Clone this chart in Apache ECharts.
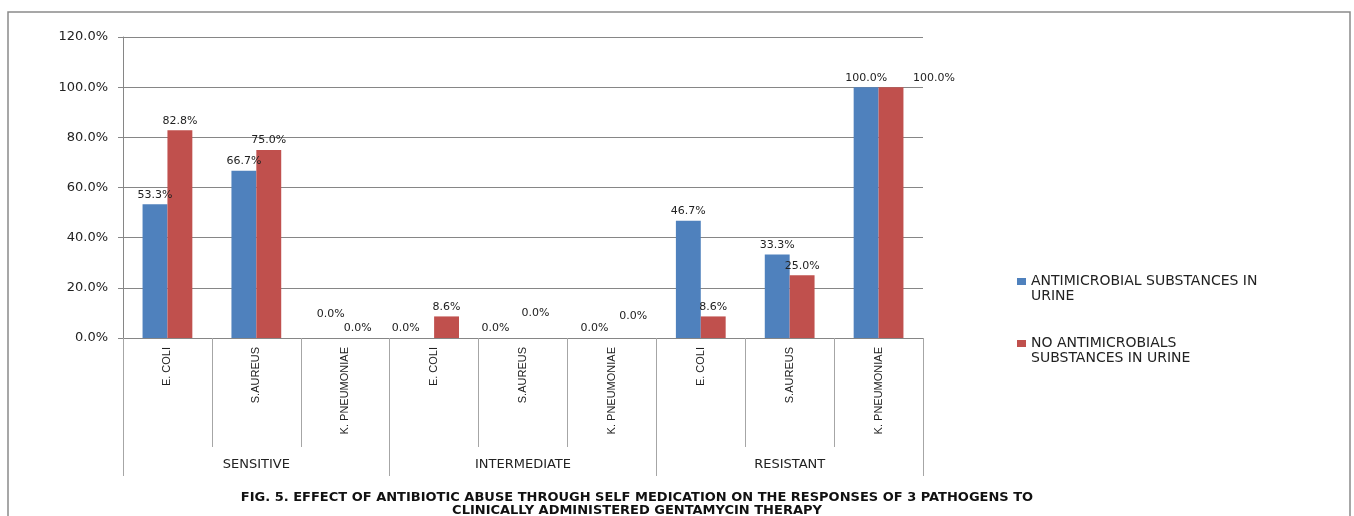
<!DOCTYPE html>
<html>
<head>
<meta charset="utf-8">
<script src="https://cdn.jsdelivr.net/npm/echarts@6/dist/echarts.min.js"></script>
<style>html,body{margin:0;padding:0;background:#fff;}#chart{width:1354px;height:516px;}</style>
</head>
<body>
<div id="chart"></div>
<script>
const pathogens = ['E. COLI', 'S.AUREUS', 'K. PNEUMONIAE', 'E. COLI', 'S.AUREUS', 'K. PNEUMONIAE', 'E. COLI', 'S.AUREUS', 'K. PNEUMONIAE'];
const responses = ['SENSITIVE', 'INTERMEDIATE', 'RESISTANT'];
const seriesNames = ['ANTIMICROBIAL SUBSTANCES IN URINE', 'NO ANTIMICROBIALS SUBSTANCES IN URINE'];
const legendText = ['ANTIMICROBIAL SUBSTANCES IN\nURINE', 'NO ANTIMICROBIALS\nSUBSTANCES IN URINE'];
const withAntimicrobials = [53.3, 66.7, 0.0, 0.0, 0.0, 0.0, 46.7, 33.3, 100.0];
const noAntimicrobials = [82.8, 75.0, 0.0, 8.6, 0.0, 0.0, 8.6, 25.0, 100.0];
const yTicks = { min: 0, max: 120, interval: 20 };
const titleLines = ['FIG. 5. EFFECT OF ANTIBIOTIC ABUSE THROUGH SELF MEDICATION ON THE RESPONSES OF 3 PATHOGENS TO', 'CLINICALLY ADMINISTERED GENTAMYCIN THERAPY'];

const colors = ['#4F81BD', '#C0504D'];
const gridColor = '#868686';
const font = 'DejaVu Sans';

// label placement nudges (style only), keyed by category index
const labelNudges = [
  { 2: [-2, -14], 3: [-16, 0], 4: [-15, 0], 5: [-5, 0] },
  { 4: [0, -15], 5: [9, -12], 8: [43, 0] }
];

function buildData(values, nudges) {
  return values.map((v, i) => nudges[i] ? { value: v, label: { offset: nudges[i] } } : v);
}

const chart = echarts.init(document.getElementById('chart'), null, { renderer: 'canvas' });

const labelCfg = {
  show: true,
  position: 'top',
  distance: 4,
  fontFamily: font,
  fontSize: 11,
  color: '#222',
  formatter: p => p.value.toFixed(1) + '%'
};

chart.setOption({
  animation: false,
  backgroundColor: '#fff',
  color: colors,
  title: {
    text: titleLines.join('\n'),
    left: 632,
    textAlign: 'center',
    top: 486,
    textStyle: { fontFamily: font, fontSize: 13, fontWeight: 'bold', color: '#111', lineHeight: 13 }
  },
  graphic: [{
    type: 'rect',
    silent: true,
    shape: { x: 8, y: 12, width: 1342, height: 600 },
    style: { fill: 'none', stroke: '#8a8a8a', lineWidth: 1.5 }
  }],
  legend: {
    orient: 'vertical',
    left: 1012,
    top: 254,
    itemGap: 17,
    itemWidth: 9,
    itemHeight: 7,
    icon: 'rect',
    data: seriesNames,
    formatter: name => '\n' + legendText[seriesNames.indexOf(name)],
    textStyle: { fontFamily: font, fontSize: 14, color: '#222', lineHeight: 15 }
  },
  grid: { left: 123, right: 431, top: 37, bottom: 178, containLabel: false },
  xAxis: [{
    type: 'category',
    data: pathogens,
    position: 'bottom',
    axisLine: { show: true, lineStyle: { color: gridColor, width: 1 } },
    axisTick: { show: true, interval: 0, length: 109, lineStyle: { color: '#a6a6a6' } },
    axisLabel: { interval: 0, rotate: 90, margin: 9, fontFamily: 'Liberation Sans', fontSize: 11, color: '#222' }
  }, {
    type: 'category',
    data: responses,
    position: 'bottom',
    axisLine: { show: false },
    axisTick: { show: true, interval: 0, length: 138, lineStyle: { color: '#a6a6a6' } },
    axisLabel: { interval: 0, margin: 120, fontFamily: font, fontSize: 13, color: '#222' }
  }],
  yAxis: {
    type: 'value',
    min: yTicks.min,
    max: yTicks.max,
    interval: yTicks.interval,
    axisLine: { show: true, lineStyle: { color: gridColor } },
    axisTick: { show: true, length: 5, lineStyle: { color: gridColor } },
    splitLine: { show: true, lineStyle: { color: gridColor, width: 1 } },
    axisLabel: { margin: 15, fontFamily: font, fontSize: 13, color: '#222', formatter: v => v.toFixed(1) + '%' }
  },
  series: [{
    name: seriesNames[0],
    type: 'bar',
    data: buildData(withAntimicrobials, labelNudges[0]),
    barGap: '0%',
    barCategoryGap: '44%',
    label: labelCfg
  }, {
    name: seriesNames[1],
    type: 'bar',
    data: buildData(noAntimicrobials, labelNudges[1]),
    barGap: '0%',
    barCategoryGap: '44%',
    label: labelCfg
  }]
});
</script>
</body>
</html>
